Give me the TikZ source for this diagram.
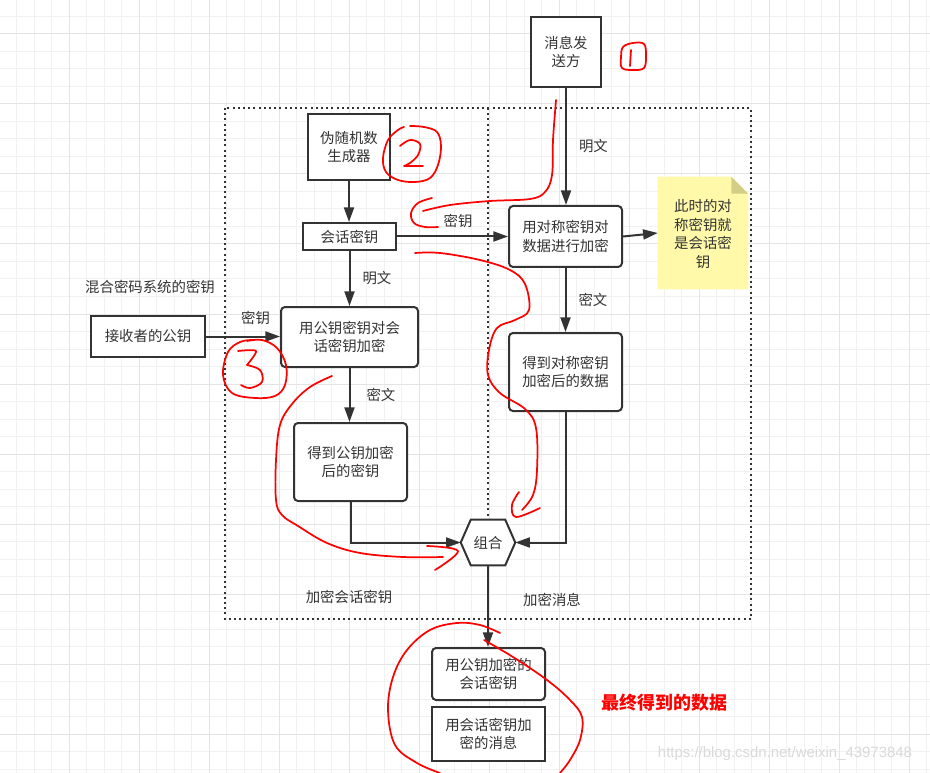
\documentclass[tikz,border=0pt]{standalone}
\usepackage{fontspec}
\setmainfont{Noto Sans CJK SC}
\newfontfamily\wmfont{Liberation Sans}
\usetikzlibrary{arrows.meta,calc}
\definecolor{dk}{HTML}{333333}
\definecolor{gminor}{HTML}{F1F1F1}
\definecolor{gmajor}{HTML}{E4E4E4}
\definecolor{notey}{HTML}{FFF9A9}
\definecolor{notefold}{HTML}{D3CE85}
\definecolor{hand}{HTML}{FF0000}
\begin{document}
\begin{tikzpicture}[x=0.75pt,y=-0.75pt,
  every node/.style={font=\fontsize{10.8}{14}\selectfont, text=dk},
  box/.style={draw=dk, line width=1.5pt, fill=white, align=center, inner sep=0pt},
  rbox/.style={box, rounded corners=3pt},
  arr/.style={draw=dk, line width=1.5pt, -{Triangle[length=11pt,width=7.5pt]}},
  lbl/.style={inner sep=0pt},
  plain/.style={inner sep=0pt, align=center},
  handline/.style={draw=hand, line width=1.3pt, line cap=round, line join=round},
  minorgrid/.style={draw=gminor, line width=0.75pt},
  majorgrid/.style={draw=gmajor, line width=0.75pt},
  dotline/.style={draw=dk, line width=1.5pt, dash pattern=on 1.5pt off 2.4pt},
]
\useasboundingbox (0,0) rectangle (930,773);
\fill[white] (0,0) rectangle (930,773);
% grid
\foreach \g in {-1,16.5,...,931} {\draw[minorgrid] (\g,0) -- (\g,773);}
\foreach \g in {-1,16.5,...,774} {\draw[minorgrid] (0,\g) -- (930,\g);}
\foreach \g in {-1,69,...,931} {\draw[majorgrid] (\g,0) -- (\g,773);}
\foreach \g in {34,104,...,774} {\draw[majorgrid] (0,\g) -- (930,\g);}

% dotted frame
\draw[dotline] (225,108) rectangle (751,619);
\draw[dotline] (488,108) -- (488,517);

% nodes
\node[box, minimum width=52.5pt, minimum height=52.5pt] (send) at (566,52) {消息发\\送方};
\node[box, minimum width=61.5pt, minimum height=49.5pt] (prng) at (349,147) {伪随机数\\生成器};
\node[box, minimum width=69.75pt, minimum height=20.25pt] (sess) at (349.5,236.5) {会话密钥};
\node[rbox, minimum width=84.75pt, minimum height=45.75pt] (sym) at (565.5,236.5) {用对称密钥对\\数据进行加密};
\node[plain, minimum width=67.5pt, minimum height=84pt] (note) at (703,233) {};
\fill[notey] (note.south west) -- (note.north west) -- ([xshift=-12.75pt]note.north east) -- ([yshift=-12.75pt]note.north east) -- (note.south east) -- cycle;
\fill[notefold] ([xshift=-12.75pt]note.north east) -- ([xshift=-12.75pt,yshift=-12.75pt]note.north east) -- ([yshift=-12.75pt]note.north east) -- cycle;
\node[plain] (notetext) at (703,234) {此时的对\\称密钥就\\是会话密\\钥};
\node[rbox, minimum width=84.75pt, minimum height=58.5pt] (symout) at (565.5,372) {得到对称密钥\\加密后的数据};
\node[rbox, minimum width=102.75pt, minimum height=45pt] (pub) at (349.5,337) {用公钥密钥对会\\话密钥加密};
\node[box, minimum width=85.5pt, minimum height=30.75pt] (recv) at (148,336.5) {接收者的公钥};
\node[rbox, minimum width=84.75pt, minimum height=58.5pt] (pubout) at (350.5,462) {得到公钥加密\\后的密钥};
\node[plain, minimum width=40.5pt, minimum height=33.75pt] (comb) at (488,542.5) {};
\draw[draw=dk, line width=1.5pt, fill=white] (comb.west) -- ([xshift=7.5pt]comb.north west) -- ([xshift=-7.5pt]comb.north east) -- (comb.east) -- ([xshift=-7.5pt]comb.south east) -- ([xshift=7.5pt]comb.south west) -- cycle;
\node[plain] (combtext) at (488,542.5) {组合};
\node[rbox, minimum width=84.75pt, minimum height=39pt] (final1) at (488.5,674) {用公钥加密的\\会话密钥};
\node[box, minimum width=84.75pt, minimum height=40.5pt] (final2) at (488.5,734) {用会话密钥加\\密的消息};

% free texts
\node[plain] (hybrid) at (150,287) {混合密码系统的密钥};
\node[plain] (encsess) at (349,597) {加密会话密钥};
\node[plain] (encmsg) at (552,600) {加密消息};
\node[plain, text=hand, font=\fontsize{13.5}{16}\selectfont\bfseries] (result) at (664,703) {最终得到的数据};
\node[plain, text=gray!30, font=\wmfont\fontsize{11.2}{13}\selectfont] (wm) at (785,754) {https://blog.csdn.net/weixin\_43973848};

% connectors
\draw[arr] (send.south) -- node[lbl, right=9pt] {明文} (send.south |- sym.north);
\draw[arr] (prng.south) -- (prng.south |- sess.north);
\draw[arr] (sess.east) -- node[lbl, pos=0.55, above=6pt] {密钥} (sym.west);
\draw[arr] (sym.east) -- (note.west);
\draw[arr] (sym.south) -- node[lbl, right=9pt] {密文} (sym.south |- symout.north);
\draw[arr] (sess.south) -- node[lbl, right=9pt] {明文} (sess.south |- pub.north);
\draw[arr] (recv.east) -- node[lbl, pos=0.67, above=8pt] {密钥} (recv.east -| pub.west);
\draw[arr] (pub.south) -- node[lbl, right=12pt] {密文} (pub.south |- pubout.north);
\draw[arr] (pubout.south) |- (comb.west);
\draw[arr] (symout.south) |- (comb.east);
\draw[arr] (comb.south) -- (comb.south |- final1.north);

% red hand annotations
\draw[handline] plot[smooth cycle, tension=0.6] coordinates {(623,47) (633,43) (644,44) (646,56) (644,68) (633,70) (622,68) (621,57)};
\draw[handline] (631,50) -- (630,66);
\draw[handline] plot[smooth, tension=0.6] coordinates {(410,126) (424,127) (437,132) (441,146) (438,165) (430,178) (415,182) (398,180) (386,172) (383,158) (388,140) (398,130) (404,127)};
\draw[handline] plot[smooth, tension=0.6] coordinates {(400,146) (410,140) (420,144) (418,155) (410,163) (404,166)} -- (423,166);
\draw[handline] plot[smooth, tension=0.6] coordinates {(556,100) (553,140) (552,175) (545,192) (530,199) (490,201) (450,205) (423,211)};
\draw[handline] plot[smooth, tension=0.6] coordinates {(432,198) (418,203) (411,213) (414,223) (425,227) (438,227)};
\draw[handline] plot[smooth, tension=0.6] coordinates {(415,253) (440,253) (480,260) (510,270) (525,284) (529,310) (515,320) (497,328) (489,350) (488,375) (500,393) (525,409) (536,428) (537,470) (533,495) (522,510)};
\draw[handline] plot[smooth, tension=0.6] coordinates {(519,492) (512,505) (516,517) (540,508)};
\draw[handline] plot[smooth, tension=0.6] coordinates {(332,376) (310,387) (292,404) (280,425) (276,460) (276,500) (282,515) (298,526) (327,543) (360,553) (403,557) (443,557)};
\draw[handline] plot[smooth, tension=0.6] coordinates {(427,546) (458,551) (435,570)};
\draw[handline] plot[smooth, tension=0.6] coordinates {(247,341) (262,340) (277,348) (286,365) (285,385) (275,396) (255,398) (232,393) (223,375) (228,352) (240,342) (252,340)};
\draw[handline] plot[smooth, tension=0.5] coordinates {(238,351) (256,351) (247,365)};
\draw[handline] plot[smooth, tension=0.6] coordinates {(247,365) (260,370) (262,382) (250,388) (241,385)};
\draw[handline] plot[smooth, tension=0.6] coordinates {(500,633) (480,625) (457,623) (430,630) (407,650) (393,677) (388,710) (395,745) (417,763) (440,773)};
\draw[handline] plot[smooth, tension=0.6] coordinates {(484,640) (513,657) (547,680) (570,700) (582,717) (580,740) (570,760) (560,773)};
\end{tikzpicture}
\end{document}
